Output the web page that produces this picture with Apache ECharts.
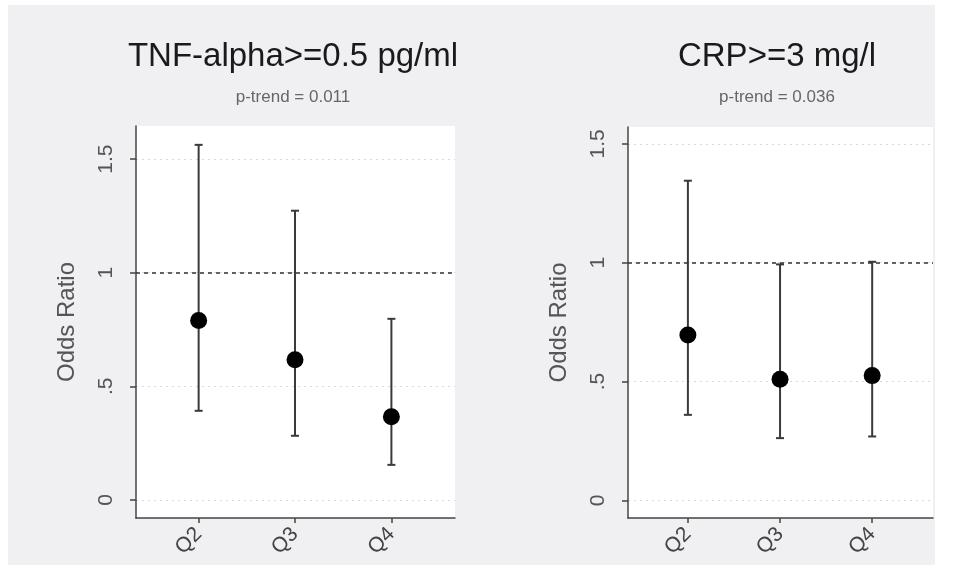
<!DOCTYPE html>
<html><head><meta charset="utf-8">
<script src="https://cdn.jsdelivr.net/npm/echarts@6/dist/echarts.min.js"></script>
<style>html,body{margin:0;padding:0;background:#fff}#c{width:953px;height:579px}</style>
</head><body><div id="c"></div>
<script>
const categories = ['Q2', 'Q3', 'Q4'];
const yTickValues = [0, 0.5, 1, 1.5];
const yTickLabels = ['0', '.5', '1', '1.5'];
const panelTitles = ['TNF-alpha>=0.5 pg/ml', 'CRP>=3 mg/l'];
const panelSubtitles = ['p-trend = 0.011', 'p-trend = 0.036'];
const yAxisTitle = 'Odds Ratio';
const tnfOR = [0.79, 0.617, 0.366];
const tnfLower = [0.392, 0.282, 0.154];
const tnfUpper = [1.563, 1.273, 0.797];
const crpOR = [0.696, 0.51, 0.525];
const crpLower = [0.36, 0.262, 0.269];
const crpUpper = [1.345, 0.993, 1.004];
const referenceOR = 1;

const FONT = "'Liberation Sans', Arial, sans-serif";
const catPos = categories.map((c, i) => i + 1);
const panels = [
  { or: tnfOR, lo: tnfLower, hi: tnfUpper, grid: { left: 136, top: 126, width: 319, height: 392 }, ymin: -0.08, ymax: 1.646, cx: 293 },
  { or: crpOR, lo: crpLower, hi: crpUpper, grid: { left: 628, top: 127, width: 305, height: 391 }, ymin: -0.074, ymax: 1.571, cx: 777 }
];

const chart = echarts.init(document.getElementById('c'), null, { renderer: 'canvas' });

const grids = [], xAxes = [], yAxes = [], series = [], graphics = [];
graphics.push({ type: 'rect', shape: { x: 8, y: 5, width: 927, height: 560 }, style: { fill: '#f0eff2' }, z: -10, silent: true });

panels.forEach((p, k) => {
  grids.push(Object.assign({ show: true, backgroundColor: '#ffffff', borderWidth: 0 }, p.grid));
  xAxes.push({
    type: 'value', gridIndex: k, min: 0.35, max: 3.66,
    axisLine: { show: true, onZero: false, lineStyle: { color: '#444', width: 1.5 } },
    axisTick: { show: true, length: 5, customValues: catPos, lineStyle: { color: '#444', width: 1.5 } },
    axisLabel: { customValues: catPos, rotate: 45, margin: 13, fontSize: 21, fontFamily: FONT, color: '#444',
      formatter: v => categories[Math.round(v) - 1] || '' },
    splitLine: { show: false }
  });
  yAxes.push({
    type: 'value', gridIndex: k, min: p.ymin, max: p.ymax,
    name: yAxisTitle, nameLocation: 'middle', nameRotate: 90, nameGap: 57,
    nameTextStyle: { fontSize: 24, fontFamily: FONT, color: '#555' },
    axisLine: { show: true, onZero: false, lineStyle: { color: '#444', width: 1.5 } },
    axisTick: { show: true, length: 6, customValues: yTickValues, lineStyle: { color: '#444', width: 1.5 } },
    axisLabel: { customValues: yTickValues, rotate: 90, margin: 19, fontSize: 21, fontFamily: FONT, color: '#555',
      formatter: v => { const i = yTickValues.findIndex(t => Math.abs(t - v) < 1e-9); return i >= 0 ? yTickLabels[i] : ''; } },
    splitLine: { show: true, lineStyle: { color: '#d4dadf', width: 1.2, type: [2, 4] } }
  });
  series.push({
    type: 'custom', xAxisIndex: k, yAxisIndex: k, z: 3,
    data: catPos.map((x, i) => [x, p.lo[i], p.hi[i]]),
    renderItem: (params, api) => {
      const x = api.value(0);
      const a = api.coord([x, api.value(1)]);
      const b = api.coord([x, api.value(2)]);
      const st = { stroke: '#3a3a3a', lineWidth: 2 };
      return { type: 'group', children: [
        { type: 'line', shape: { x1: a[0], y1: a[1], x2: b[0], y2: b[1] }, style: st },
        { type: 'line', shape: { x1: a[0] - 4, y1: a[1], x2: a[0] + 4, y2: a[1] }, style: st },
        { type: 'line', shape: { x1: b[0] - 4, y1: b[1], x2: b[0] + 4, y2: b[1] }, style: st }
      ] };
    }
  });
  series.push({
    type: 'scatter', xAxisIndex: k, yAxisIndex: k, z: 5,
    symbol: 'circle', symbolSize: 17, itemStyle: { color: '#000', opacity: 1 },
    data: catPos.map((x, i) => [x, p.or[i]]),
    markLine: { silent: true, symbol: 'none', label: { show: false },
      lineStyle: { color: '#333', width: 1.5, type: [4, 4] },
      data: [{ yAxis: referenceOR }] }
  });
  graphics.push({ type: 'text', x: p.cx, y: 57, z: 10,
    style: { text: panelTitles[k], font: '33px ' + FONT, fill: '#1a1a1a', align: 'center', verticalAlign: 'middle', textAlign: 'center', textVerticalAlign: 'middle' } });
  graphics.push({ type: 'text', x: p.cx, y: 97, z: 10,
    style: { text: panelSubtitles[k], font: '17px ' + FONT, fill: '#666', align: 'center', verticalAlign: 'middle', textAlign: 'center', textVerticalAlign: 'middle' } });
});

chart.setOption({
  backgroundColor: '#ffffff',
  animation: false,
  grid: grids, xAxis: xAxes, yAxis: yAxes, series: series, graphic: graphics
});
</script></body></html>
